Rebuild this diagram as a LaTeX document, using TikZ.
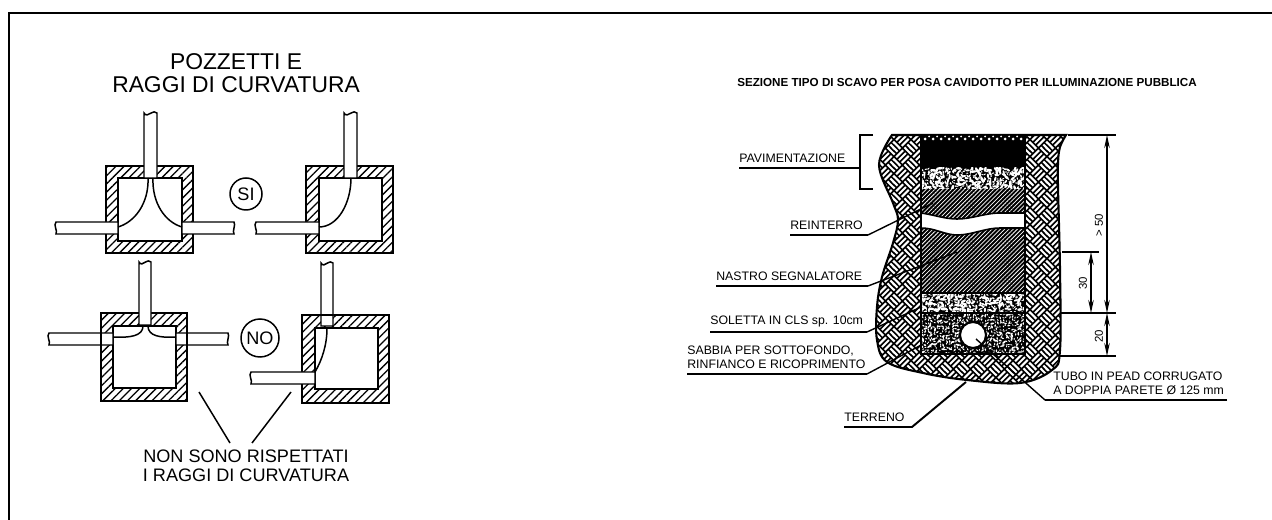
\documentclass[tikz,border=0pt]{standalone}
\usepackage{fontspec}
\setmainfont{Liberation Sans}
\usetikzlibrary{calc,patterns,patterns.meta,arrows.meta}
\pgfdeclarepatternformonly{intreccio}{\pgfqpoint{0pt}{0pt}}{\pgfqpoint{9.6pt}{9.6pt}}{\pgfqpoint{9.6pt}{9.6pt}}{
	\pgfsetlinewidth{1.2pt}
	\foreach \cx/\cy in {4.8/4.8, 6.4/3.2, 3.2/6.4}{
		\pgfpathmoveto{\pgfpoint{\cx pt - 2pt}{\cy pt - 2pt}}
		\pgfpathlineto{\pgfpoint{\cx pt + 2pt}{\cy pt + 2pt}}
	}
	\foreach \ox/\oy in {0/0, 9.6/0, 0/9.6, 9.6/9.6}{
		\foreach \d in {-1.6, 0, 1.6}{
			\pgfpathmoveto{\pgfpoint{\ox pt + \d pt - 2pt}{\oy pt + \d pt + 2pt}}
			\pgfpathlineto{\pgfpoint{\ox pt + \d pt + 2pt}{\oy pt + \d pt - 2pt}}
		}
	}
	\pgfusepath{stroke}
}
\tikzset{
	muro/.style={pattern={Lines[angle=45,distance=3.3pt,line width=.75pt]}, pattern color=black},
	linea/.style={line width=0.85pt},
	richiamo/.style={line width=1.1pt},
	quota/.style={line width=0.8pt, {Stealth[length=2.6mm,width=1.1mm]}-{Stealth[length=2.6mm,width=1.1mm]}},
	etichetta/.style={font=\fontsize{7}{7.9}\selectfont, inner xsep=0pt, inner ysep=2.8pt, anchor=south west, align=left},
	grande/.style={font=\fontsize{13}{13}\selectfont, align=center, inner sep=0pt},
	medio/.style={font=\fontsize{10.3}{10.8}\selectfont, align=center, inner sep=0pt},
	cerchio/.style={circle, draw, line width=0.85pt, inner sep=0pt, font=\fontsize{10.3}{10.8}\selectfont},
	misura/.style={font=\fontsize{6.5}{7}\selectfont, rotate=90, inner sep=0pt},
}
\def\pozzetto(#1,#2)(#3,#4)(#5,#6)(#7,#8){
	\fill[muro, even odd rule] (#1,#2) rectangle (#3,#4) (#5,#6) rectangle (#7,#8);
	\draw[linea] (#1,#2) rectangle (#3,#4);
	\draw[linea] (#5,#6) rectangle (#7,#8);
}
\def\tubov(#1,#2)(#3,#4){\filldraw[linea, fill=white] (#1,#4) -- (#1,#2) .. controls +(1,3) and +(-2,2) .. ($(#1,#2)!.55!(#3,#2)$) .. controls +(2,-2) and +(-2,-1) .. (#3,#2) -- (#3,#4) -- cycle;}
\def\tubos(#1,#2)(#3,#4){\filldraw[linea, fill=white] (#3,#2) -- (#1,#2) .. controls +(-3,3) and +(2,-3) .. (#1,#4) -- (#3,#4) -- cycle;}
\def\tubod(#1,#2)(#3,#4){\filldraw[linea, fill=white] (#1,#2) -- (#3,#2) .. controls +(2,3) and +(-2,-3) .. (#3,#4) -- (#1,#4) -- cycle;}
\def\ghiaia[#1](#2,#3)(#4,#5)#6{
	\begin{scope}
		\clip (#2,#3) rectangle (#4,#5);
		\fill[black] (#2,#3) rectangle (#4,#5);
		\foreach \gi in {#2,\the\numexpr#2+#6\relax,...,#4}{
			\foreach \gj in {#3,\the\numexpr#3+#6\relax,...,#5}{
				\pgfmathsetmacro\gx{\gi+rnd*#6*0.8}
				\pgfmathsetmacro\gy{\gj+rnd*#6*0.8}
				\pgfmathsetmacro\gr{0.7+rnd*#1}
				\pgfmathsetmacro\ga{rnd*180}
				\fill[white, rotate around={\ga:(\gx,\gy)}] (\gx,\gy) ellipse ({\gr*1.5} and {\gr*0.7});
			}
		}
	\end{scope}
}

\begin{document}
\begin{tikzpicture}[x=0.02cm, y=-0.02cm]
	\useasboundingbox (0,0) rectangle (1272,520);
	%%%%% CORNICE %%%%%
	\draw[line width=1.1pt] (9,520) -- (9,13) -- (1272,13);

	%%%%% POZZETTI %%%%%
	\node[grande] (titolo) at (236,73) {POZZETTI E\\RAGGI DI CURVATURA};

	\pozzetto(106,166)(193,253)(118,178)(182,241)
	\tubov(144,113)(157,178)
	\tubos(56,222)(118,234)
	\tubod(182,222)(234,234)
	\draw[linea] (148,178) .. controls (149,203) and (135,222) .. (118,227);
	\draw[linea] (153,178) .. controls (152,203) and (165,222) .. (182,227);

	\pozzetto(306,166)(393,253)(319,178)(382,241)
	\tubov(344,113)(357,178)
	\tubos(256,222)(319,234)
	\draw[linea] (351,178) .. controls (351,203) and (338,227) .. (319,227);

	\node[cerchio, minimum size=32*0.02cm] (si) at (246,194) {SI};

	\pozzetto(101,313)(187,401)(113,326)(176,388)
	\tubov(139,262)(151,325)
	\tubos(49,333)(113,345)
	\tubod(176,333)(228,345)
	\draw[linea] (101,313) -- (101,401) (187,313) -- (187,401);
	\draw[linea] (143,326) .. controls (143,336) and (130,338) .. (113,337);
	\draw[linea] (148,326) .. controls (148,336) and (160,338) .. (176,337);

	\pozzetto(302,315)(389,403)(315,328)(378,389)
	\tubov(321,263)(333,326)
	\tubos(251,372)(315,384)
	\draw[linea] (327,328) .. controls (327,345) and (322,360) .. (315,372);
	\draw[linea] (321,315) -- (333,315);

	\node[cerchio, minimum size=38*0.02cm] (no) at (260,338) {NO};

	\node[medio] (nonsono) at (246,466) {NON SONO RISPETTATI\\I RAGGI DI CURVATURA};
	\coordinate (sx) at (199,392);
	\coordinate (dx) at (291,392);
	\draw[linea] (sx) -- (230,443);
	\draw[linea] (dx) -- (252,443);

	%%%%% SEZIONE %%%%%
	\node[font=\fontsize{6.63}{7}\selectfont\bfseries, inner sep=0pt] (sezione) at (967,82) {SEZIONE TIPO DI SCAVO PER POSA CAVIDOTTO PER ILLUMINAZIONE PUBBLICA};

	\def\scavo{(892,135) plot[smooth, tension=.6] coordinates {(892,135) (879,165) (893,203) (898,220) (893,243) (882,277) (877,307) (877,340) (887,362) (923,373) (967,380) (1020,383) (1052,370) (1060,350) (1060,270) (1058,187) (1058,163) (1060,147) (1066,135)} -- cycle}
	\fill[black] \scavo;
	\fill[pattern=intreccio, pattern color=white] \scavo;
	\draw[line width=1.2pt] \scavo;

	\pgfmathsetseed{11}
	\fill[black] (921,135) rectangle (1025,168);
	\foreach \x in {925,933,...,1021}{
		\fill[white] (\x,139) circle (1.5);
		\fill[white] (\x+4,136.5) circle (1);
	}
	\ghiaia[1.3](921,168)(1025,189){3}
	\fill[black] (921,189) rectangle (1025,293);
	\fill[pattern={Lines[angle=45,distance=1.7pt,line width=.42pt]}, pattern color=white] (921,189) rectangle (1025,293);
	\filldraw[fill=white, line width=.9pt] (921,213) .. controls (935,215) and (945,219) .. (957,219) .. controls (972,219) and (985,213) .. (1000,213) -- (1025,213) -- (1025,228) -- (1000,228) .. controls (985,228) and (972,235) .. (957,235) .. controls (945,235) and (935,228) .. (921,228) -- cycle;
	\ghiaia[1.3](921,293)(1025,313){3}
	\ghiaia[0.7](921,313)(1025,354){3}
	\draw[line width=1.2pt] (921,135) -- (921,354) -- (1025,354) -- (1025,135);
	\draw[line width=1pt] (921,293) -- (1025,293) (921,313) -- (1025,313);
	\filldraw[line width=1.2pt, fill=white] (973,335) circle (13);

	%%%%% ETICHETTE %%%%%
	\node[etichetta] (pavimentazione) at (739,168) {PAVIMENTAZIONE};
	\draw[richiamo] (pavimentazione.south west) -- (860,168);
	\draw[richiamo] (873,135) -- (860,135) -- (860,189) -- (873,189);

	\node[etichetta] (reinterro) at (790,235) {REINTERRO};
	\coordinate (reinterrofine) at (933,203);
	\draw[richiamo] (reinterro.south west) -- (868,235);
	\draw[line width=.8pt] (868,235) -- (reinterrofine);

	\node[etichetta] (nastro) at (716,286) {NASTRO SEGNALATORE};
	\coordinate (nastrofine) at (957,252);
	\draw[richiamo] (nastro.south west) -- (868,286);
	\draw[line width=.8pt] (868,286) -- (nastrofine);

	\node[etichetta] (soletta) at (710,332) {SOLETTA IN CLS sp. 10cm};
	\coordinate (solettafine) at (921,307);
	\draw[richiamo] (soletta.south west) -- (867,332);
	\draw[line width=.8pt] (867,332) -- (solettafine);

	\node[etichetta] (sabbia) at (687,374) {SABBIA PER SOTTOFONDO,\\RINFIANCO E RICOPRIMENTO};
	\coordinate (sabbiafine) at (925,343);
	\draw[richiamo] (sabbia.south west) -- (867,374);
	\draw[line width=.8pt] (867,374) -- (sabbiafine);

	\node[etichetta] (terreno) at (844,427) {TERRENO};
	\coordinate (terrenofine) at (966,382);
	\draw[richiamo] (terreno.south west) -- (912,427) -- (terrenofine);

	\node[etichetta] (tubo) at (1053,400) {TUBO IN PEAD CORRUGATO\\A DOPPIA PARETE Ø 125 mm};
	\coordinate (tubofine) at (976,339);
	\draw[richiamo] (1227,400) -- (1045,400);
	\draw[line width=.8pt] (1045,400) -- (tubofine);

	%%%%% QUOTE %%%%%
	\draw[richiamo] (1068,135) -- (1116,135);
	\draw[richiamo] (1062,252) -- (1099,252);
	\draw[richiamo] (1060,313) -- (1116,313);
	\draw[richiamo] (1060,356) -- (1116,356);
	\draw[quota] (1107,135) -- (1107,313);
	\draw[quota] (1091,252) -- (1091,313);
	\draw[quota] (1107,313) -- (1107,356);
	\node[misura] (q50) at (1099,225) {> 50};
	\node[misura] (q30) at (1083,283) {30};
	\node[misura] (q20) at (1099,336) {20};
\end{tikzpicture}
\end{document}
